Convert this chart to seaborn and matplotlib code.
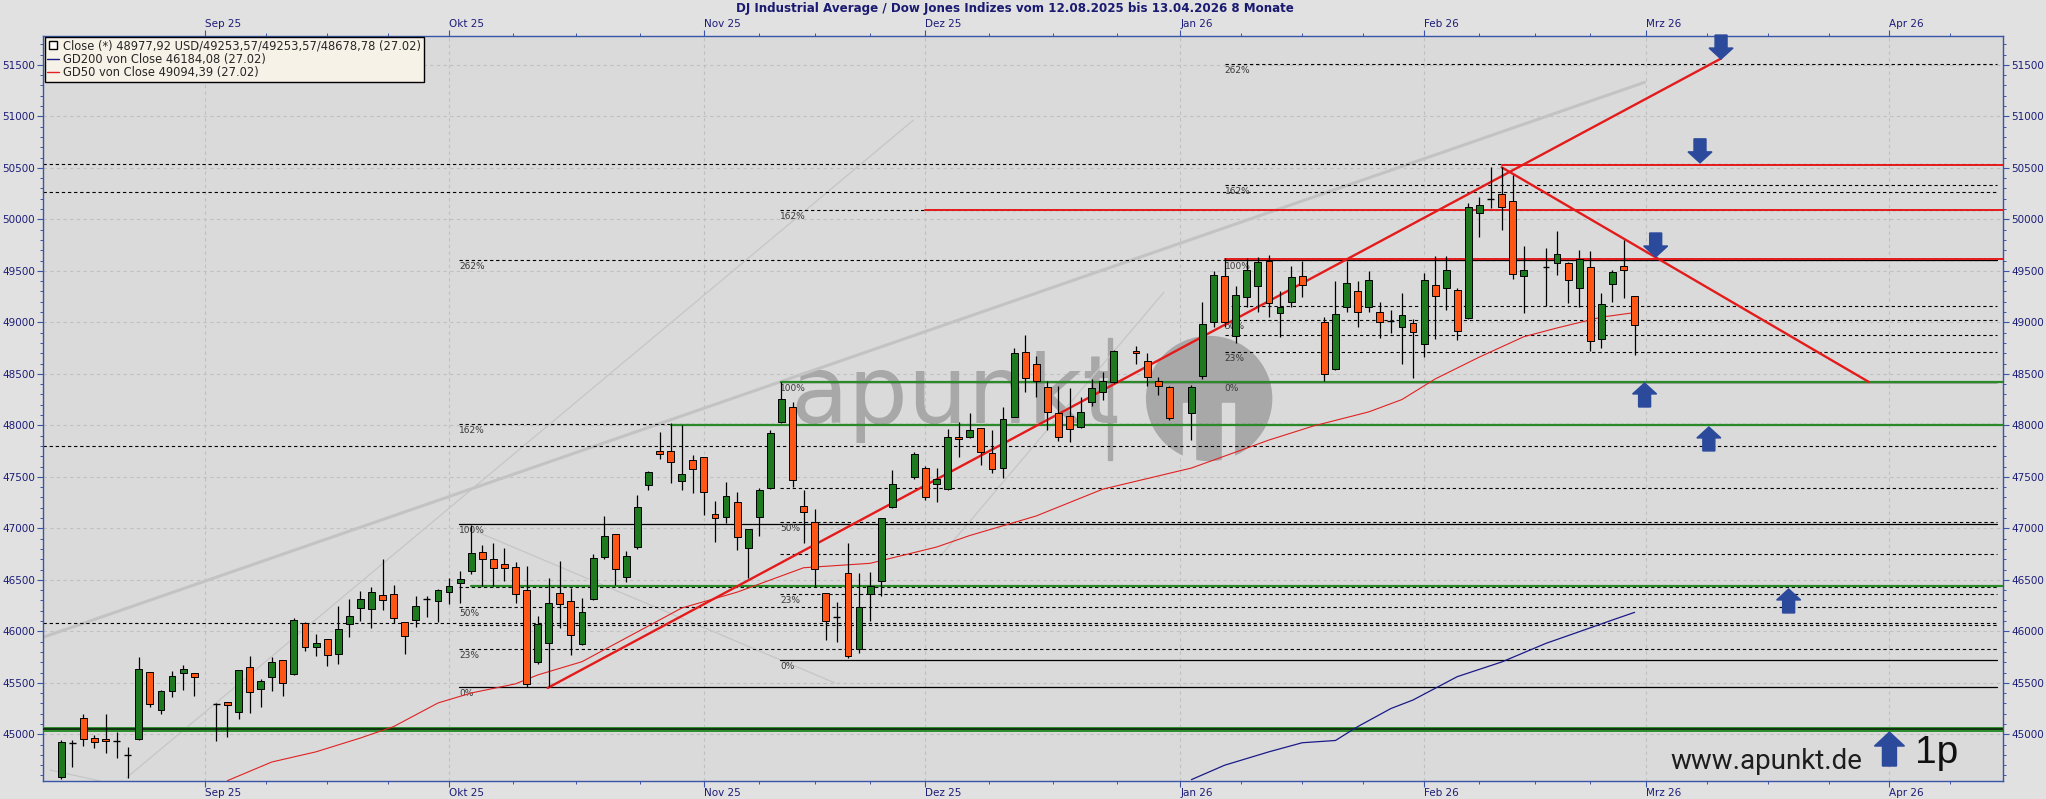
import numpy as np
import pandas as pd
import matplotlib
matplotlib.use("Agg")
import matplotlib.pyplot as plt
import seaborn as sns
from matplotlib.lines import Line2D
from matplotlib.patches import Polygon, Ellipse, Rectangle

sns.set_theme(style="white")
plt.rcParams['font.family'] = ['DejaVu Sans']

# ---------------- data ----------------
holidays = ["2025-09-01", "2025-11-27", "2025-12-25", "2026-01-01", "2026-01-19", "2026-02-16"]
trade_dates = [d for d in pd.bdate_range("2025-08-13", "2026-02-27")
               if d.strftime("%Y-%m-%d") not in holidays]

opens = [44582, 44915, 45155, 44961, 44951, 44932, 44803, 44954, 45602, 45239, 45424, 45592, 45595,
         45290, 45310, 45213, 45650, 45437, 45553, 45725, 45582, 46077, 45851, 45922, 45783, 46068,
         46223, 46213, 46356, 46365, 46093, 46106, 46306, 46291,
         46378, 46466, 46585, 46773, 46699, 46650, 46621, 46401, 45705, 45883, 46369, 46294, 45877,
         46317, 46718, 46941, 46524, 46815, 47417, 47750, 47750, 47456, 47663,
         47695, 47142, 47106, 47252, 46805, 47106, 47388, 48032, 48174, 47220, 47061, 46375, 46130,
         46563, 45825, 46359, 46491, 47210, 47495,
         47582, 47427, 47378, 47883, 47883, 47970, 47728, 47582, 48084, 48715, 48592, 48375, 48122,
         48093, 47980, 48223, 48326, 48423, 48720, 48627, 48433, 48368,
         48116, 48482, 48999, 49450, 48867, 49250, 49350, 49600, 49093, 49200, 49450, 48999, 48546,
         49150, 49300, 49145, 49103, 49010, 48951, 48990,
         48786, 49359, 49330, 49313, 49038, 50058, 50190, 50242, 50177, 49446, 49530, 49579, 49572,
         49330, 49533, 48834, 49371, 49543, 49253.57]
highs = [44945, 44945, 45197, 44993, 45197, 45019, 44880, 45754, 45602, 45430, 45615, 45673, 45598,
         45300, 45310, 45621, 45763, 45537, 45754, 45725, 46126, 46087, 45970, 45922, 46249, 46313,
         46391, 46433, 46699, 46449, 46093, 46339, 46339, 46407,
         46514, 46585, 47032, 46838, 46854, 46805, 46669, 46634, 46148, 46514, 46679, 46417, 46320,
         46747, 47123, 46941, 46780, 47323, 47556, 47938, 48019, 48003, 47712,
         47695, 47265, 47446, 47349, 46990, 47394, 47954, 48417, 48223, 47372, 47187, 46375, 46288,
         46854, 46563, 46572, 47103, 47566, 47744,
         47605, 47582, 47961, 48035, 48122, 47970, 47954, 48181, 48747, 48876, 48672, 48433, 48381,
         48359, 48278, 48446, 48520, 48731, 48770, 48698, 48472, 48381,
         48391, 49200, 49500, 49620, 49350, 49620, 49633, 49650, 49300, 49550, 49600, 49050, 49400,
         49600, 49400, 49500, 49200, 49115, 49281, 49028,
         49475, 49643, 49643, 49330, 50155, 50213, 50511, 50505, 50430, 49740, 49724, 49886, 49588,
         49702, 49692, 49281, 49507, 49799, 49253.57]
lows = [44565, 44686, 44890, 44864, 44815, 44767, 44579, 44945, 45268, 45194, 45365, 45430, 45372,
        44938, 44977, 45149, 45210, 45268, 45424, 45375, 45576, 45812, 45763, 45666, 45686, 45948,
        46103, 46035, 46207, 46084, 45780, 46045, 46142, 46093,
        46262, 46278, 46556, 46440, 46440, 46488, 46271, 45462, 45680, 45460, 46029, 45770, 45867,
        46304, 46702, 46446, 46482, 46799, 47372, 47669, 47443, 47372, 47346,
        47129, 46870, 47048, 46789, 46514, 46928, 47378, 48026, 47404, 46860, 46433, 45915, 45900,
        45737, 45786, 46103, 46343, 47194, 47475,
        47275, 47257, 47372, 47689, 47873, 47614, 47540, 47485, 48077, 48326, 48278, 47954, 47851,
        47841, 47970, 48187, 48245, 48413, 48595, 48381, 48294, 48051,
        47857, 48449, 48950, 48950, 48796, 49150, 49100, 49050, 48854, 49150, 49250, 48432, 48540,
        49100, 48950, 49100, 48850, 48899, 48595, 48456,
        48666, 48834, 49119, 48828, 49028, 49831, 50106, 49896, 49417, 49087, 49161, 49459, 49190,
        49151, 48724, 48747, 49200, 49232, 48678.78]
closes = [44922, 44911, 44951, 44922, 44932, 44938, 44799, 45631, 45291, 45420, 45566, 45631, 45553,
          45296, 45281, 45621, 45407, 45517, 45705, 45495, 46106, 45848, 45883, 45767, 46019, 46145,
          46310, 46378, 46304, 46126, 45951, 46242, 46310, 46401,
          46440, 46511, 46760, 46699, 46611, 46611, 46362, 45488, 46068, 46271, 46262, 45961, 46184,
          46708, 46922, 46601, 46734, 47203, 47543, 47718, 47640, 47524, 47572,
          47349, 47097, 47313, 46919, 46990, 47368, 47922, 48252, 47469, 47155, 46601, 46100, 46136,
          45760, 46239, 46440, 47103, 47427, 47718,
          47300, 47475, 47883, 47864, 47954, 47744, 47572, 48058, 48698, 48462, 48430, 48126, 47889,
          47961, 48132, 48359, 48433, 48724, 48705, 48465, 48381, 48067,
          48375, 48983, 49462, 49006, 49266, 49504, 49590, 49191, 49151, 49442, 49359, 48498, 49080,
          49384, 49103, 49412, 49006, 49016, 49071, 48902,
          49410, 49255, 49507, 48918, 50116, 50135, 50194, 50122, 49465, 49504, 49533, 49660, 49407,
          49614, 48815, 49177, 49485, 49504, 48977.92]

gd50_dates = ["2025-09-03", "2025-09-09", "2025-09-15", "2025-09-19", "2025-09-24", "2025-09-30",
              "2025-10-03", "2025-10-09", "2025-10-13", "2025-10-17", "2025-10-30", "2025-11-06",
              "2025-11-14", "2025-11-24", "2025-12-02", "2025-12-05", "2025-12-15", "2025-12-23",
              "2026-01-02", "2026-01-08", "2026-01-13", "2026-01-19", "2026-01-26", "2026-01-29",
              "2026-02-03", "2026-02-09", "2026-02-13", "2026-02-18", "2026-02-24", "2026-02-27"]
gd50_vals = [44550, 44731, 44830, 44964, 45075, 45304, 45401, 45490, 45576, 45705, 46226, 46380,
             46617, 46660, 46818, 46930, 47120, 47380, 47585, 47740, 47857, 47993, 48130, 48250,
             48450, 48663, 48860, 48945, 49050, 49094.39]
gd200_dates = ["2026-01-02", "2026-01-07", "2026-01-13", "2026-01-16", "2026-01-21", "2026-01-23",
               "2026-01-28", "2026-01-30", "2026-02-05", "2026-02-11", "2026-02-17", "2026-02-20",
               "2026-02-25", "2026-02-27"]
gd200_vals = [44560, 44700, 44830, 44918, 44940, 45074, 45250, 45333, 45560, 45702, 45883, 45996,
              46110, 46184.08]

month_starts = ["2025-09-01", "2025-10-01", "2025-11-01", "2025-12-01", "2026-01-01",
                "2026-02-01", "2026-03-01", "2026-04-01", "2026-05-01"]
month_labels = ["Sep 25", "Okt 25", "Nov 25", "Dez 25", "Jan 26", "Feb 26", "Mrz 26", "Apr 26"]

title = "DJ Industrial Average / Dow Jones Indizes vom 12.08.2025 bis 13.04.2026 8 Monate"
legend_labels = ["Close (*) 48977,92 USD/49253,57/49253,57/48678,78 (27.02)",
                 "GD200 von Close 46184,08 (27.02)",
                 "GD50 von Close 49094,39 (27.02)"]

# Fibonacci / support levels drawn on the chart
full_dashed = [46083, 47795, 50262, 50540]
fib1_dashed = [49604, 48017, 46434, 46239, 46061, 45825]
fib1_solid = [47039, 45456]
fib1_labels = [("262%", 49604), ("162%", 48017), ("100%", 47039), ("50%", 46239), ("23%", 45825), ("0%", 45456)]
fib2_dashed = [50088, 47389, 47064, 46750, 46359]
fib2_solid = [48420, 45718]
fib2_labels = [("162%", 50088), ("100%", 48420), ("50%", 47064), ("23%", 46359), ("0%", 45718)]
fib3_dashed = [51505, 50329, 49158, 49020, 48880, 48709]
fib3_solid = [49604, 48420]
fib3_labels = [("262%", 51505), ("162%", 50329), ("100%", 49604), ("50%", 49020), ("23%", 48709), ("0%", 48420)]
green_levels = [(46440, "2025-10-03"), (48003, "2025-10-29"), (48423, "2025-11-12")]
red_levels = [(50527, "2026-02-11"), (50090, "2025-12-01"), (49612, "2026-01-07")]

# ---------------- helpers ----------------
ORIGIN = "2025-08-12"


def xpos(d):
    return float(np.busday_count(ORIGIN, pd.Timestamp(d).strftime("%Y-%m-%d")))


W, H = 2046, 799
fig = plt.figure(figsize=(W / 100, H / 100), dpi=100, facecolor="#e1e1e1")
ax_l, ax_r, ax_t, ax_b = 43.3, 2002.7, 35.5, 781.0
ax = fig.add_axes([ax_l / W, 1 - ax_b / H, (ax_r - ax_l) / W, (ax_b - ax_t) / H])
ax.set_facecolor("#dadada")
XMIN, XMAX = -0.62, 176.22
YMIN, YMAX = 44546.6, 51784.5
ax.set_xlim(XMIN, XMAX)
ax.set_ylim(YMIN, YMAX)
PXK = (XMAX - XMIN) / (ax_r - ax_l)   # data x per pixel
PXV = (YMAX - YMIN) / (ax_b - ax_t)   # data y per pixel
RIGHT_END = XMAX - 6 * PXK

navy = "#1c1c78"
spine_c = "#3a55a5"

# grid
mpos = [xpos(d) for d in month_starts]
for xm in mpos[:-1]:
    ax.axvline(xm, color="#c0c0c0", lw=0.8, ls=(0, (3, 3)), zorder=0.5)
for yv in range(45000, 51501, 500):
    ax.axhline(yv, color="#c0c0c0", lw=0.8, ls=(0, (3, 3)), zorder=0.5)

# watermark
ax.text(xpos("2025-11-13") - 0.2, 48022, "apunkt", fontsize=68, color="#a8a8a8", zorder=0.8,
        ha="left", va="baseline", family="DejaVu Sans")
ax.add_patch(Rectangle((95.45, 48022 - 37 * PXV), 4 * PXK, 122 * PXV, color="#a8a8a8", zorder=0.8))
cx, cy = 104.6, 48260
ax.add_patch(Ellipse((cx, cy), 125 * PXK, 124 * PXV, color="#a8a8a8", zorder=0.8))
for sx in (-26, 13):
    ax.add_patch(Rectangle((cx + sx * PXK, cy - 62 * PXV), 12 * PXK, 58 * PXV, color="#dadada", zorder=0.81))

dash = dict(color="black", lw=0.8, ls=(0, (3, 2.5)), zorder=2)
solid = dict(color="black", lw=0.9, zorder=2)
for v in full_dashed:
    ax.plot([XMIN, RIGHT_END], [v, v], **dash)
for start, dl, sl, labs in [(36.9, fib1_dashed, fib1_solid, fib1_labels),
                            (65.9, fib2_dashed, fib2_solid, fib2_labels),
                            (106.0, fib3_dashed, fib3_solid, fib3_labels)]:
    for v in dl:
        ax.plot([start, RIGHT_END], [v, v], **dash)
    for v in sl:
        ax.plot([start, RIGHT_END], [v, v], **solid)
    for t, v in labs:
        ax.annotate(t, xy=(start, v), xytext=(0, -1.5), textcoords="offset points",
                    fontsize=6.5, color="#3a3a3a", ha="left", va="top", zorder=2.5)

# thin gray helper lines
thin_gray = dict(color="#c6c6c6", lw=0.9, zorder=1.5)
ax.plot([6.9, 77.9], [44579, 50962], **thin_gray)
ax.plot([36.9, 70.8], [47039, 45500], **thin_gray)
ax.plot([80.3, 100.5], [46724, 49290], **thin_gray)
ax.plot([0, 4.5], [44653, 44547], **thin_gray)
# thick gray trend
ax.plot([XMIN, 143.9], [45943, 51330], color="#c3c3c3", lw=2.2, zorder=1.6, solid_capstyle="round")

# green & red levels
ax.plot([XMIN, XMAX], [45049, 45049], color="#2f8f2f", lw=3.6, zorder=2.6, solid_capstyle="butt")
ax.plot([XMIN, XMAX], [45049, 45049], color="#0e2a0e", lw=1.3, zorder=2.7, solid_capstyle="butt")
for v, d in green_levels:
    ax.plot([xpos(d), XMAX], [v, v], color="#2a8a2a", lw=1.6, zorder=2.6)
for v, d in red_levels:
    ax.plot([xpos(d), XMAX], [v, v], color="#e41b1b", lw=1.4, zorder=3.2)

# moving averages (seaborn)
gd50_df = pd.DataFrame({"x": [xpos(d) for d in gd50_dates], "y": gd50_vals})
gd200_df = pd.DataFrame({"x": [xpos(d) for d in gd200_dates], "y": gd200_vals})
sns.lineplot(data=gd50_df, x="x", y="y", ax=ax, color="#e02222", lw=0.8, zorder=2.8, sort=False)
sns.lineplot(data=gd200_df, x="x", y="y", ax=ax, color="#1a1a88", lw=0.9, zorder=2.8, sort=False)

# candles
xs = np.array([xpos(d) for d in trade_dates])
o = np.array(opens, float); h = np.array(highs, float)
l = np.array(lows, float); c = np.array(closes, float)
ax.vlines(xs, l, h, color="black", lw=0.9, zorder=4)
bw = 0.62
up = c >= o
doji = np.abs(c - o) < 12
body_col = np.where(up, "#1e7a1e", "#ff5515")
mask = ~doji
ax.bar(xs[mask], (np.abs(c - o))[mask], bottom=np.minimum(o, c)[mask], width=bw,
       color=body_col[mask], edgecolor="black", linewidth=0.7, zorder=5)
ax.hlines(c[doji], xs[doji] - bw / 2, xs[doji] + bw / 2, color="black", lw=1.0, zorder=5)

# red trend lines
ax.plot([44.9, 150.8], [45450, 51561], color="#e41b1b", lw=1.7, zorder=3.3)
ax.plot([131.0, 164.15], [50505, 48420], color="#e41b1b", lw=1.7, zorder=3.3)


# arrows
def arrow(k, v, down=True, big=False):
    hw, hh, sw, sl = (15, 14, 7, 20) if big else (12, 11, 6, 13)
    s = 1 if down else -1
    pts = [(0, 0), (-hw, hh), (-sw, hh), (-sw, hh + sl), (sw, hh + sl), (sw, hh), (hw, hh)]
    poly = [(k + px * PXK, v + s * py * PXV) for px, py in pts]
    ax.add_patch(Polygon(poly, closed=True, color="#2c4a9c", zorder=6, clip_on=False))


arrow(150.8, 51556, down=True)
arrow(148.9, 50548, down=True)
arrow(144.9, 49634, down=True)
arrow(143.9, 48411, down=False)
arrow(149.7, 47984, down=False)
arrow(156.9, 46411, down=False)
arrow(166.0, 45022, down=False, big=True)

ax.text(154.9, 44735, "www.apunkt.de", fontsize=20, color="#1e1e1e", ha="center", va="center",
        family=["Roboto", "DejaVu Sans"], zorder=6)
ax.text(168.3, 44990, "1p", fontsize=28, color="#111111", ha="left", va="top",
        family="Liberation Sans", zorder=6)

# axes styling
ax.set_xlabel(""); ax.set_ylabel("")
ax.set_xticks(mpos[:-1])
ax.set_xticklabels(month_labels)
minor = []
for a, b in zip(mpos[:-1], mpos[1:]):
    minor += [a + (b - a) * j / 4 for j in (1, 2, 3)]
ax.set_xticks([m for m in minor if m < XMAX], minor=True)
ax.set_yticks(range(45000, 51501, 500))
ax.set_yticks(range(44600, 51800, 100), minor=True)
ax.tick_params(axis="x", which="both", top=True, bottom=True, labeltop=True, labelbottom=True,
               direction="out", colors=spine_c, labelcolor=navy, labelsize=7.5, pad=1)
ax.tick_params(axis="y", which="both", left=True, right=True, labelleft=True, labelright=True,
               direction="out", colors=spine_c, labelcolor=navy, labelsize=7.5, pad=2)
ax.tick_params(which="major", length=4, width=0.8)
ax.tick_params(which="minor", length=2.5, width=0.7)
for t in ax.xaxis.get_major_ticks():
    t.label1.set_horizontalalignment("left")
    t.label2.set_horizontalalignment("left")
for sp in ax.spines.values():
    sp.set_color(spine_c)
    sp.set_linewidth(1.0)

handles = [Line2D([], [], marker="s", ls="None", mfc="white", mec="black", ms=6),
           Line2D([], [], color="#1a1a88", lw=1),
           Line2D([], [], color="#e02222", lw=1)]
leg = ax.legend(handles, legend_labels, loc="upper left", bbox_to_anchor=(0.0007, 0.9985),
                fontsize=8.3, frameon=True, fancybox=False, framealpha=1, facecolor="#f7f2e8",
                edgecolor="black", borderpad=0.22, labelspacing=0.05, handlelength=1.0,
                handletextpad=0.4, borderaxespad=0.0)
leg.get_frame().set_linewidth(1.0)
leg.set_zorder(10)

fig.text(1015 / W, 1 - 2 / H, title, ha="center", va="top", fontsize=8.6, fontweight="bold", color="#1a1a70")

fig.savefig("out.png", dpi=100, facecolor=fig.get_facecolor())
